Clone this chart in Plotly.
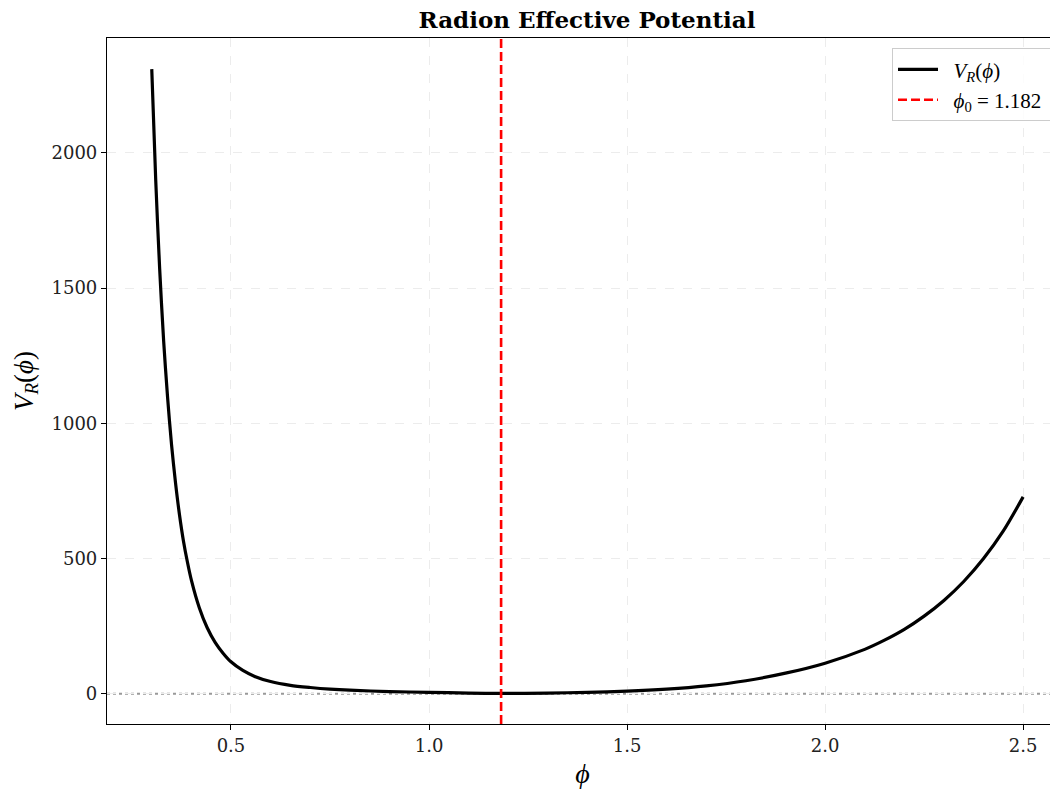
import plotly.graph_objects as go

# Values
phi = [0.30, 0.31, 0.32, 0.33, 0.34, 0.35, 0.36, 0.37, 0.38, 0.39, 0.40,
       0.42, 0.44, 0.46, 0.48, 0.50, 0.53, 0.56, 0.60, 0.65, 0.70, 0.75, 0.80,
       0.90, 1.00, 1.10, 1.182, 1.30, 1.40, 1.50, 1.60, 1.70, 1.80, 1.90,
       2.00, 2.10, 2.15, 2.20, 2.25, 2.30, 2.35, 2.40, 2.45, 2.50]
V_R = [2310, 1900, 1570, 1305, 1095, 920, 780, 662, 565, 487, 420,
       318, 244, 190, 150, 118, 86, 64, 45, 31, 23, 17, 13,
       8, 5, 2.5, 1, 2.5, 5, 9.5, 17, 29, 48, 76,
       113, 164, 198, 238, 287, 345, 415, 500, 602, 728]
phi0 = 1.182
phi0_label = "1.182"

x_ticks = [0.5, 1.0, 1.5, 2.0, 2.5]
y_ticks = [0, 500, 1000, 1500, 2000]
x_range = [0.187, 2.588]
y_range = [-112, 2425]

NB = "\u00a0"
fig = go.Figure()

fig.add_trace(go.Scatter(
    x=phi, y=V_R, mode="lines",
    line=dict(color="black", width=3.2, shape="spline", smoothing=0.8),
    name=NB * 2 + "<i>V<sub>R</sub></i>(<i>ϕ</i>)" + NB * 2,
))
fig.add_trace(go.Scatter(
    x=[phi0, phi0], y=y_range, mode="lines",
    line=dict(color="red", width=2.6, dash="9px,4px"),
    name=NB * 2 + "<i>ϕ</i><sub>0</sub> = " + phi0_label + NB * 2,
))

# dotted zero line
fig.add_shape(type="line", xref="paper", yref="y", x0=0, x1=1, y0=0, y1=0,
              line=dict(color="#999999", width=2, dash="dot"), layer="below")

axis_common = dict(
    showline=True, linecolor="black", linewidth=1.2,
    ticks="outside", ticklen=5, tickwidth=1.2, tickcolor="black",
    showgrid=True, gridcolor="#ececec", griddash="dash", gridwidth=1,
    zeroline=False,
    tickfont=dict(family="DejaVu Serif", size=18, color="#222222"),
)

fig.update_xaxes(
    range=x_range, tickvals=x_ticks, ticktext=[f"{v:.1f}" for v in x_ticks],
    mirror=True,
    title=dict(text="<i>ϕ</i>", font=dict(family="Liberation Serif", size=28, color="black"), standoff=8),
    **axis_common,
)
fig.update_yaxes(
    range=y_range, tickvals=y_ticks, ticktext=[str(v) for v in y_ticks],
    mirror=False,
    title=dict(text="<i>V<sub>R</sub></i>(<i>ϕ</i>)", font=dict(family="Liberation Serif", size=27, color="black"), standoff=10),
    **axis_common,
)

# page body adds an 8px offset; figure sized to fill the remaining viewport
W, H = 1050, 781
fig.update_layout(
    width=W, height=H,
    margin=dict(l=99, r=0, t=30, b=65),
    paper_bgcolor="white", plot_bgcolor="white",
    title=dict(text="<b>Radion Effective Potential</b>", x=579 / W, xanchor="center",
               y=1 - 12 / H, yanchor="middle",
               font=dict(family="DejaVu Serif", size=23, color="black")),
    showlegend=True,
    legend=dict(x=1.0, y=0.985, xanchor="right", yanchor="top",
                bgcolor="rgba(255,255,255,0.85)", bordercolor="#cccccc", borderwidth=1,
                font=dict(family="Liberation Serif", size=21, color="black"),
                itemwidth=40, tracegroupgap=8),
)

fig.write_html("out.html")
